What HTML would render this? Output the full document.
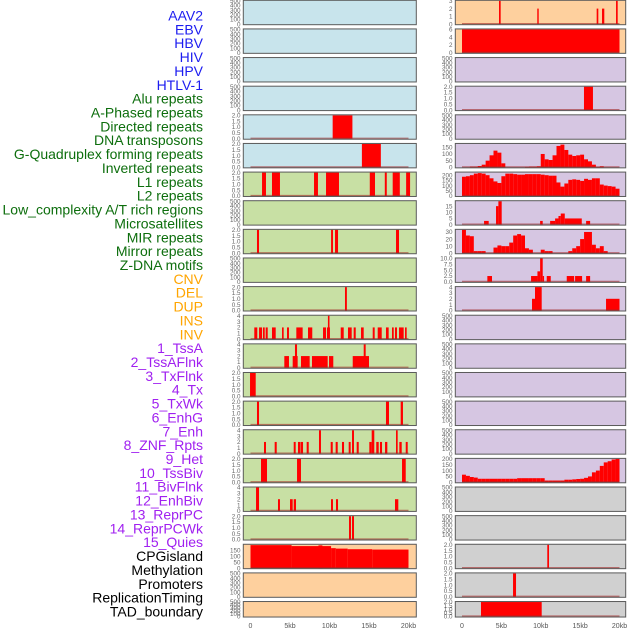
<!DOCTYPE html>
<html><head><meta charset="utf-8"><style>
html,body{margin:0;padding:0;background:#fff;width:630px;height:630px;overflow:hidden}
svg{display:block;font-family:"Liberation Sans",sans-serif}
</style></head><body>
<svg id="chart" width="630" height="630" viewBox="0 0 630 630" xmlns="http://www.w3.org/2000/svg"></svg>
<script>
// ---------- labels ----------
const trackLabels = ["AAV2","EBV","HBV","HIV","HPV","HTLV-1","Alu repeats","A-Phased repeats","Directed repeats","DNA transposons","G-Quadruplex forming repeats","Inverted repeats","L1 repeats","L2 repeats","Low_complexity A/T rich regions","Microsatellites","MIR repeats","Mirror repeats","Z-DNA motifs","CNV","DEL","DUP","INS","INV","1_TssA","2_TssAFlnk","3_TxFlnk","4_Tx","5_TxWk","6_EnhG","7_Enh","8_ZNF_Rpts","9_Het","10_TssBiv","11_BivFlnk","12_EnhBiv","13_ReprPC","14_ReprPCWk","15_Quies","CPGisland","Methylation","Promoters","ReplicationTiming","TAD_boundary"];
const labelGroupSizes = [6,13,5,15,5];
const labelGroupColors = ["#1c1cf0","#0d6e0d","#ffa500","#a020f0","#000000"];
const xTickValues = [0,5,10,15,20];
const xTickLabels = ["0","5kb","10kb","15kb","20kb"];

// ---------- tick sets ----------
const ticksEmpty = [0,100,200,300,400,500];
const ticks2 = [0,0.5,1,1.5,2];
const ticks4 = [0,1,2,3,4];

// ---------- left column data (segments: [startKb, endKb, value]) ----------
const L4_bars = [[10.4,12.9,2]];
const L5_bars = [[14.1,16.5,2]];
const L6_bars = [[1.46,1.96,2],[2.72,3.73,2],[8.04,8.54,2],[9.56,11.2,2],[15.1,15.76,2],[17.0,17.25,2],[18.0,18.9,2],[19.7,20.2,2]];
const L8_bars = [[0.82,1.08,2],[10.2,10.44,2],[10.7,11.08,2],[18.42,18.8,2]];
const L10_bars = [[11.96,12.2,2]];
const L11_bars = [[0.48,0.86,2],[1.08,1.46,2],[1.58,1.8,2],[1.92,2.18,2],[2.72,3.19,2],[3.99,4.2,2],[4.62,4.87,2],[5.8,6.6,2],[7.28,7.82,2],[9.18,9.56,2],[9.68,10.06,2],[9.8,10.0,4],[11.42,11.8,2],[12.34,12.81,2],[13.06,13.32,2],[13.99,14.33,2],[15.47,15.72,2],[16.1,16.61,2],[17.15,17.49,2],[17.91,18.13,2],[18.29,18.54,2],[18.8,19.39,2],[19.56,19.77,2]];
const L12_bars = [[4.28,4.87,2],[5.34,5.97,2],[5.63,5.89,4],[6.39,7.49,2],[7.78,9.77,2],[9.94,10.48,2],[12.94,15.0,2],[14.33,14.58,4]];
const L13_bars = [[-0.06,0.66,2]];
const L14_bars = [[0.82,1.08,2],[17.15,17.53,2],[19.01,19.3,2]];
const L15_bars = [[1.71,1.96,2],[3.06,3.32,2],[5.47,5.72,2],[6.01,6.3,2],[6.35,6.65,2],[7.11,7.37,2],[8.67,8.92,4],[10.15,10.41,2],[10.78,11.04,2],[11.58,11.84,2],[12.43,12.68,2],[12.85,13.1,4],[13.44,13.7,2],[15.04,15.34,2],[15.34,15.67,4],[15.92,16.23,2],[16.39,16.65,2],[17.03,17.32,2],[18.42,18.63,4],[18.84,19.14,2],[19.65,19.9,2]];
const L16_bars = [[1.33,2.09,2],[5.89,6.39,2],[19.18,19.65,2]];
const L17_bars = [[0.7,1.08,4],[3.48,3.73,2],[5.0,5.34,2],[5.47,5.76,2],[10.19,10.44,2],[10.82,11.08,2],[18.29,18.71,2]];
const L18_bars = [[12.47,12.72,2],[12.85,13.1,2]];
const L19_bars = [[0,5.2,192],[5.2,10.2,184],[8.6,9.1,190],[10.2,10.8,167],[10.8,12.3,163],[12.3,15.4,158],[15.4,20,155]];

// ---------- right column data ----------
const R0_bars = [[4.7,4.91,3],[9.56,9.74,2],[17.1,17.31,2],[17.78,18.07,2],[19.56,19.77,3]];
const R1_bars = [[0,20,6]];
const R3_bars = [[15.49,16.63,2]];
const R7_bars = [[2.8,3.39,3],[4.32,4.62,15],[4.62,5.04,19],[9.92,10.25,3],[11.19,11.82,3],[11.82,12.25,5],[12.25,12.54,7],[12.54,13.05,9],[13.05,15.21,5],[15.76,16.27,3]];
const R9_bars = [[3.22,3.81,2.5],[8.77,9.58,2.5],[9.58,9.92,4.5],[9.92,10.25,10],[10.25,10.42,2.5],[10.76,11.27,2.5],[13.3,14.24,2.5],[14.36,15.25,2.5],[15.76,16.27,2.5]];
const R10_bars = [[8.89,9.27,2],[9.27,10.12,4],[18.29,20.0,2]];
const R19_bars = [[10.83,11.05,2]];
const R20_bars = [[6.48,6.86,2]];
const R21_bars = [[2.41,10.12,2]];
// binned profiles: 40 bins of 0.5kb
const R5_bins = [0,0,5,5,10,20,50,90,125,110,30,0,0,0,0,0,3,5,5,8,100,60,55,90,160,170,130,95,85,90,95,60,45,20,3,8,0,0,0,0];
const R6_bins = [185,190,200,215,220,215,200,170,140,125,190,215,215,210,205,205,210,210,210,210,205,200,195,195,130,90,120,155,160,155,145,165,155,170,170,110,100,95,90,70];
const R8_bins = [33,25,24,3,3,3,0,0,8,11,10,10,15,25,27,25,7,5,0,0,5,3,3,0,0,0,0,3,7,10,20,30,30,12,7,10,3,0,0,0];
const R16_bins = [65,55,45,40,30,30,30,30,30,30,30,30,30,30,35,35,35,35,35,35,35,15,15,15,15,15,22,22,25,28,30,38,50,85,100,140,170,180,195,200];

const BLUE="#c8e4ec", GREEN="#c8e0a4", ORANGE="#fed09e", PURPLE="#d6c6e2", GRAY="#d0d0d0";

// panels: column, row, bg, ticks, tickLabels, bars, bins
const leftPanels = [
 {r:0,bg:BLUE},{r:1,bg:BLUE},{r:2,bg:BLUE},{r:3,bg:BLUE},
 {r:4,bg:BLUE,t:ticks2,b:L4_bars},{r:5,bg:BLUE,t:ticks2,b:L5_bars},
 {r:6,bg:GREEN,t:ticks2,b:L6_bars},{r:7,bg:GREEN},
 {r:8,bg:GREEN,t:ticks2,b:L8_bars},{r:9,bg:GREEN},
 {r:10,bg:GREEN,t:ticks2,b:L10_bars},{r:11,bg:GREEN,t:ticks4,b:L11_bars},
 {r:12,bg:GREEN,t:ticks4,b:L12_bars},{r:13,bg:GREEN,t:ticks2,b:L13_bars},
 {r:14,bg:GREEN,t:ticks2,b:L14_bars},{r:15,bg:GREEN,t:ticks4,b:L15_bars},
 {r:16,bg:GREEN,t:ticks2,b:L16_bars},{r:17,bg:GREEN,t:ticks4,b:L17_bars},
 {r:18,bg:GREEN,t:ticks2,b:L18_bars},{r:19,bg:ORANGE,t:[0,50,100,150],b:L19_bars,ym:195},
 {r:20,bg:ORANGE},{r:21,bg:ORANGE}
];
const rightPanels = [
 {r:0,bg:ORANGE,t:[0,1,2,3],b:R0_bars},{r:1,bg:ORANGE,t:[0,2,4,6],b:R1_bars},
 {r:2,bg:PURPLE},{r:3,bg:PURPLE,t:ticks2,b:R3_bars},{r:4,bg:PURPLE},
 {r:5,bg:PURPLE,t:[0,50,100,150],n:R5_bins,ym:175},
 {r:6,bg:PURPLE,t:[0,50,100,150,200],n:R6_bins,ym:225},
 {r:7,bg:PURPLE,t:[0,5,10,15],b:R7_bars},
 {r:8,bg:PURPLE,t:[0,10,20,30],n:R8_bins},
 {r:9,bg:PURPLE,t:[0,2.5,5,7.5,10],b:R9_bars,fmt1:true},
 {r:10,bg:PURPLE,t:ticks4,b:R10_bars},
 {r:11,bg:PURPLE},{r:12,bg:PURPLE},{r:13,bg:PURPLE},{r:14,bg:PURPLE},{r:15,bg:PURPLE},
 {r:16,bg:PURPLE,t:[0,50,100,150,200],n:R16_bins},
 {r:17,bg:GRAY},{r:18,bg:GRAY},
 {r:19,bg:GRAY,t:ticks2,b:R19_bars},{r:20,bg:GRAY,t:ticks2,b:R20_bars},{r:21,bg:GRAY,t:ticks2,b:R21_bars}
];

const svg = document.getElementById('chart');
const NS = "http://www.w3.org/2000/svg";
function mk(tag, attrs){ const e=document.createElementNS(NS,tag); for(const k in attrs) e.setAttribute(k,attrs[k]); return e; }

const cols = [
 {x0:243.3, x1:416.3, zero:250.5, ppk:7.9, tickX:240.5, list:leftPanels, name:'left'},
 {x0:455.3, x1:625.7, zero:462, ppk:7.875, tickX:452.5, list:rightPanels, name:'right'}
];
function rowTop(r){ return 0.3 + 28.63*r; }
function rowH(r){ return r===21 ? 15.5 : 24.4; }

// labels
let li=0;
labelGroupSizes.forEach((n,g)=>{
  for(let k=0;k<n;k++){
    const t = mk('text',{x:203,y:20.5+13.86*li,'text-anchor':'end','font-size':'14',fill:labelGroupColors[g]});
    
    
    t.textContent = trackLabels[li];
    svg.appendChild(t);
    li++;
  }
});

cols.forEach(c=>{
  const xs = kb => c.zero + kb*c.ppk;
  c.list.forEach(p=>{
    const top=rowTop(p.r), h=rowH(p.r), bot=top+h;
    const g = mk('g',{});
    
    
    svg.appendChild(g);
    g.appendChild(mk('rect',{x:c.x0,y:top,width:c.x1-c.x0,height:h,fill:p.bg}));
    const ticks = p.t || ticksEmpty;
    let ym = p.ym;
    if(!ym){
      let m = 0;
      if(p.b) p.b.forEach(s=>{ if(s[2]>m) m=s[2]; });
      if(p.n) p.n.forEach(v=>{ if(v>m) m=v; });
      ym = p.b||p.n ? Math.max(m, ticks[ticks.length-1]) : 500;
    }
    const ysc = v => bot - 0.5 - (v/ym)*(h-1);
    const bars = [];
    if(p.b) p.b.forEach(s=>bars.push(s));
    if(p.n) p.n.forEach((v,i)=>{ if(v>0) bars.push([i*0.5,(i+1)*0.5,v]); });
    bars.forEach((s,i)=>{
      const x1=xs(s[0]), x2=xs(s[1]);
      const rc = mk('rect',{x:x1,y:ysc(s[2]),width:Math.max(x2-x1,1.2),height:ysc(0)-ysc(s[2]),fill:'#ff0000'});
      
      
      g.appendChild(rc);
    });
    if(p.b||p.n){
      g.appendChild(mk('line',{x1:xs(0),x2:xs(20),y1:bot-1,y2:bot-1,stroke:'#a02828','stroke-opacity':'0.6','stroke-width':'1.3'}));
    }
    g.appendChild(mk('rect',{x:c.x0,y:top,width:c.x1-c.x0,height:h,fill:'none',stroke:'#5a5a5a','stroke-width':'1'}));
    ticks.forEach(v=>{
      let lab;
      if(ticks===ticks2 || p.fmt1) lab = v.toFixed(1); else lab = String(v);
      const tt = mk('text',{x:c.tickX,y:ysc(v)+2.2,'text-anchor':'end','font-size':'6.3',fill:'#666'});
      
      
      tt.textContent = lab;
      g.appendChild(tt);
    });
  });
  xTickValues.forEach((v,i)=>{
    const t = mk('text',{x:xs(v),y:628,'text-anchor':'middle','font-size':'7',fill:'#555'});
    
    
    t.textContent = xTickLabels[i];
    svg.appendChild(t);
  });
});
</script>
</body></html>
